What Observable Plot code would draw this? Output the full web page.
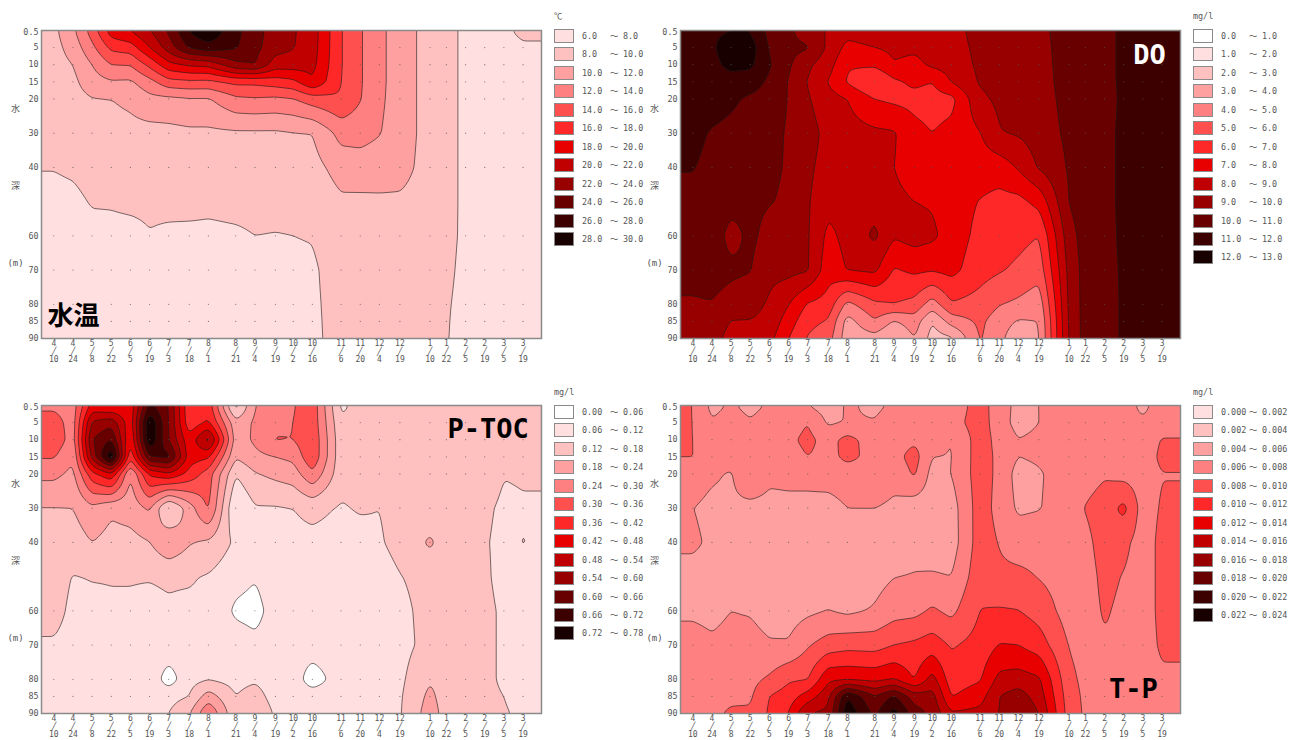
<!DOCTYPE html>
<html><head><meta charset="utf-8">
<script src="https://cdn.jsdelivr.net/npm/d3@7"></script>
<script src="https://cdn.jsdelivr.net/npm/@observablehq/plot@0.6"></script>
<style>
html,body{margin:0;padding:0;background:#fff}
#page{position:relative;width:1292px;height:740px;overflow:hidden;font-family:"DejaVu Sans Mono","Noto Sans CJK JP",monospace;color:#555}
#page svg{position:absolute;overflow:visible}
.sw{position:absolute;width:18px;height:12px;border:1.5px solid #8a8a8a}
.lg{position:absolute;font-size:8.4px;line-height:14px;white-space:pre}
</style></head><body><div id="page"></div>
<script>
const dateLabels = ["4/10","4/24","5/8","5/22","6/5","6/19","7/3","7/18","8/1","8/21","9/4","9/19","10/2","10/16","11/6","11/20","12/4","12/19","1/10","1/22","2/5","2/19","3/5","3/19"];
const dayOffsets = [0,14,28,42,56,70,84,99,113,133,147,162,175,189,210,224,238,253,275,287,301,315,329,343];
const depths = [0.5,5,10,15,20,30,40,50,60,70,80,85,90];
const depthTicks = [0.5,5,10,15,20,30,40,60,70,80,85,90];
const reds = ["#ffffff","#ffdfdf","#ffc0c0","#ffa0a0","#ff8080","#ff5050","#ff2828","#e80000","#c00000","#980000","#680000","#3c0000","#180000"];

// each line: one survey date, values by depth
const waterTemp = [
[9.5,9.3,9.2,9.1,9,8.5,8.05,7.6,7.3,7,6.8,6.7,6.6],
[11.5,10.8,10,9.5,9.2,8.7,8.2,7.7,7.2,7,6.8,6.7,6.6],
[14.8,13.5,12,11.2,9.9,9,8.5,8.1,7.6,7.2,7,6.9,6.8],
[18.8,16.5,14,11.8,10,9.3,8.6,8.1,7.7,7.3,7.1,7,6.9],
[19.9,17,14.1,11.7,10.4,9.4,8.7,8.2,7.7,7.3,7.1,7,6.9],
[21.8,20,16.5,13.3,11.4,9.3,8.6,8.2,7.95,7.4,7.1,7,6.9],
[24.2,23,19.4,15.3,11.5,9.4,8.8,8.3,7.8,7.3,7.1,7,6.9],
[28,26.2,20.3,15.6,11.8,9.6,8.9,8.4,7.7,7.3,7.1,7,6.9],
[29.6,27.2,20.6,15.5,11.8,9.6,8.9,8.3,7.7,7.2,7,6.9,6.8],
[26.5,26.2,23.5,16.5,13.6,9.7,9,8.4,7.8,7.3,7,6.9,6.8],
[24.8,24.6,24.1,16.5,13.8,9.7,9,8.4,8,7.4,7.1,7,6.9],
[23,22.8,21,17,13.6,9.7,9,8.4,7.95,7.5,7.2,7.1,7],
[22.2,22.1,21,17.5,13.9,9.9,9.1,8.4,8,7.6,7.3,7.2,7.1],
[21,20.9,20.6,19.8,15,10,9.3,8.6,8.1,7.7,7.65,7.62,7.6],
[16.1,16.1,16.1,16,15.8,12.7,10.8,9.7,9.3,9,8.8,8.75,8.7],
[14.2,14.2,14.2,14.2,14.1,12.7,11.1,9.6,9.2,9,8.9,8.8,8.8],
[12.5,12.5,12.5,12.5,12.4,12.1,10.9,9.7,9.2,9,8.9,8.9,8.8],
[11,11,11,11,11,11,10.7,9.7,9.3,9.1,9,9,9],
[9.2,9.2,9.2,9.2,9.2,9.2,9.2,9.2,9.2,9.2,9.2,9.2,9.2],
[8.6,8.6,8.6,8.6,8.6,8.6,8.6,8.6,8.55,8.4,8.2,8.15,8.1],
[7.6,7.6,7.6,7.6,7.6,7.6,7.6,7.6,7.6,7.5,7.4,7.3,7.3],
[7.3,7.3,7.3,7.3,7.3,7.3,7.3,7.3,7.3,7.3,7.2,7.2,7.2],
[7.6,7.2,7.2,7.2,7.2,7.2,7.2,7.2,7.2,7.2,7.2,7.2,7.2],
[8.4,7.7,7.2,7.2,7.2,7.2,7.2,7.2,7.2,7.2,7.2,7.2,7.2]];

const dissolvedOxygen = [
[11.8,11.8,11.8,11.7,11.6,11.3,11.05,10.7,10.5,10.3,9.9,9.7,9.5],
[11.9,11.9,11.8,11.7,11.5,10.9,10.7,10.6,10.5,10.4,9.95,9.6,9.3],
[12,12.4,12.2,11.7,11.2,10.7,10.5,10.3,9.7,10.2,9.6,8.95,8.7],
[12,12.5,12.2,11.5,10.8,10.5,10.4,10.2,10.2,10.05,9.4,8.95,8.5],
[10.7,10.9,11.1,10.8,10.6,10.3,10.2,10.05,9.7,9.3,8.85,8.7,8.3],
[10.2,10.3,10.15,9.95,9.95,9.9,9.9,9.85,9.7,9.3,8.05,7.5,7],
[9.5,10.1,9.2,8.95,9.1,9.4,9.2,9.1,9.1,9.1,6.9,6.3,5.9],
[8.9,8.8,8.4,7.95,8.4,8.7,8.6,8.3,7.75,7.4,6.6,5.9,5.4],
[8.3,7.7,7.1,6.9,8,8.4,8.5,8.4,8.3,8.05,4.7,3.6,3.4],
[8.5,8,7.2,5.8,7,8.2,8.5,8.7,9.2,8.2,5.8,4.9,3.6],
[8.3,8.2,7.95,6.8,6.8,8.1,8,8.2,8.1,6.9,6,3.9,2.9],
[8.4,8.2,7.7,7.2,6.7,7.3,7.6,8,8.4,7.2,5.7,4.5,4],
[8.5,8.4,8.2,7,6.6,7,7.2,7.9,8.2,7.1,4.5,3,2.6],
[8.6,8.5,8.4,8.05,6.7,7.3,7.4,7.5,7.55,7.3,5.9,4.4,2.8],
[9.4,9.3,9.2,9.1,8.8,7.95,7.5,6.95,6.7,6.4,5.6,5.2,5.1],
[9.5,9.5,9.4,9.3,9.2,8.95,7.45,6.7,6.5,6.1,5.05,4.5,4.3],
[9.6,9.55,9.5,9.4,9.3,9.1,8.1,6.7,6.3,5.8,4.8,3.9,3.2],
[9.8,9.75,9.7,9.65,9.6,9.5,9.1,7.3,6,5.4,4.4,4,3.9],
[10.35,10.35,10.35,10.35,10.3,10.2,10.1,10.05,9.6,9.3,9.2,9.15,9.1],
[10.6,10.6,10.6,10.6,10.6,10.6,10.6,10.5,10.45,10.4,10.4,10.4,10.4],
[10.85,10.85,10.85,10.85,10.8,10.8,10.8,10.8,10.75,10.75,10.7,10.7,10.7],
[11.1,11.1,11.1,11.1,11.1,11.15,11.15,11.15,11.15,11.1,11.1,11.1,11.1],
[11.4,11.4,11.4,11.4,11.4,11.4,11.4,11.4,11.4,11.4,11.4,11.4,11.4],
[11.6,11.6,11.6,11.6,11.6,11.6,11.6,11.6,11.6,11.6,11.6,11.6,11.6]];

const pToc = [
[.29,.33,.345,.305,.255,.178,.15,.14,.135,.115,.1,.1,.1],
[.27,.27,.27,.245,.225,.18,.15,.118,.11,.105,.1,.1,.1],
[.45,.55,.6,.56,.4,.225,.18,.122,.11,.1,.1,.1,.1],
[.43,.58,.66,.775,.47,.19,.16,.122,.115,.105,.1,.1,.1],
[.44,.44,.42,.37,.235,.205,.16,.122,.115,.1,.1,.1,.1],
[.68,.775,.775,.66,.43,.25,.178,.122,.11,.1,.1,.1,.1],
[.6,.6,.6,.68,.47,.1,.235,.125,.115,.1,.03,.1,.12],
[.37,.38,.44,.45,.4,.21,.185,.125,.11,.1,.1,.12,.175],
[.4,.43,.57,.43,.33,.31,.17,.115,.11,.1,.115,.21,.3],
[.1,.2,.21,.185,.122,.055,.11,.08,.05,.09,.1,.12,.13],
[.24,.25,.25,.225,.175,.115,.1,.064,.04,.075,.11,.15,.185],
[.27,.28,.305,.24,.195,.115,.1,.09,.085,.085,.085,.09,.11],
[.295,.3,.3,.255,.21,.12,.105,.095,.085,.08,.09,.09,.09],
[.34,.34,.35,.35,.29,.135,.105,.09,.08,.09,.03,.09,.09],
[.11,.13,.14,.14,.14,.115,.1,.09,.09,.09,.09,.09,.09],
[.14,.14,.14,.14,.14,.125,.1,.09,.09,.09,.09,.09,.09],
[.14,.14,.14,.14,.14,.12,.115,.1,.09,.09,.09,.09,.09],
[.14,.14,.14,.14,.14,.14,.135,.118,.105,.1,.108,.113,.115],
[.14,.14,.14,.14,.14,.14,.19,.14,.14,.14,.175,.195,.21],
[.15,.15,.15,.15,.15,.15,.15,.15,.15,.15,.15,.15,.155],
[.15,.15,.15,.15,.15,.15,.15,.15,.15,.15,.15,.15,.15],
[.15,.15,.15,.15,.15,.13,.125,.13,.135,.135,.135,.135,.135],
[.14,.14,.14,.14,.122,.11,.105,.1,.11,.11,.11,.12,.125],
[.14,.14,.14,.14,.125,.115,.122,.1,.122,.1,.1,.1,.11]];
const pTocRightEdge = [.14,.14,.14,.14,.13,.11,.11,.1,.11,.1,.1,.1,.11];

// total phosphorus, in units of 0.001 mg/l
const totalP = [
[8.05,8.05,8.05,8.05,7,6.03,6.3,5.4,5.7,6.7,7.2,7.3,7.5],
[5.5,6.2,6.8,7,6.3,5.5,5.7,5.3,5.5,6.3,7,7.2,7.6],
[6.3,6.8,7,6.9,5.8,5.6,5.3,5.2,6,6.6,7.2,7.6,8.3],
[5.5,6.2,8.1,7.8,8.1,5.3,5.2,5.1,5.85,6.7,7.4,7.7,8.3],
[6.3,6.9,7,7,6.5,5.3,5.2,5.1,5.2,6.2,8.3,10.05,10.3],
[6.6,7,7.6,7.2,6.6,5.4,5.1,5,5.1,6.2,9.7,11,12.05],
[6.1,8,8.5,8,6.5,5.5,5,4.9,5.6,7.8,9.9,12.9,16.1],
[5.2,5.7,7.3,7.4,6.8,5.3,5,4.9,6.05,8.9,13.6,15.5,16.5],
[6.2,6.1,8.7,8.5,7,6,5,4.8,5.6,9.3,13.7,22,23.5],
[5.7,6.1,7,7.4,7.2,6,5,5.3,6.2,9.2,13.4,18.1,19.5],
[6.3,6.9,7.2,7.3,6.5,5.7,5,5.95,7.2,10,14,20.3,23],
[6.5,7,7.6,8.8,8.3,4.8,5.4,6.1,7.4,10.4,11.9,17,19],
[6.6,7.2,7.3,6,5.3,5,5,6.2,8.3,11,14.8,16.8,17.5],
[6.7,7.2,5.9,5.9,6,5.1,5.02,6,7.5,9.8,10.9,11.9,14.3],
[9,9,9,9,9,9,9,9.3,10.05,10.7,11.8,13.2,14.6],
[6.8,6.9,7.3,7.5,7.5,7.3,7.9,8.4,10.2,12.1,14.6,16,16.05],
[5.5,5.3,6.05,6,5.2,5.7,7,8.5,10.05,12,14.9,17,17.8],
[6,6,6.4,6.3,5.8,5.9,7.2,7.9,9.2,11,14.3,15.1,16.05],
[7,7,7,7,7,7,7,7,7.1,7.9,8.5,8.9,9.1],
[7.2,7,7,7,7.2,8.1,7.5,7.2,7.2,7.3,7.5,7.6,7.7],
[7.5,8.1,7.8,8.1,7.8,8.9,8.8,8.5,8.2,7.8,7.3,7,6.8],
[7,6.8,7,7,7.3,10.6,8.5,7.9,7.6,7.5,7.2,7.1,7],
[5.5,6.4,7,7,7.1,7.1,7.1,7.1,7.1,7.1,7,7,7],
[7.1,7.2,8.1,8.4,7.95,8.2,8.5,8.5,8.5,8.3,7.7,7.5,7.4]];

const tempBreaks = [6,8,10,12,14,16,18,20,22,24,26,28,30];
const doBreaks = [0,1,2,3,4,5,6,7,8,9,10,11,12,13];
const tocBreaks = [0,.06,.12,.18,.24,.3,.36,.42,.48,.54,.6,.66,.72,.78];
const tpBreaks = [0,2,4,6,8,10,12,14,16,18,20,22,24];
const sideLabels = [{t:"水",d:23},{t:"深",d:45.5},{t:"(m)",d:68}];
const xDomain = [-9,356.5];

const panels = [
 {left:0,top:0,values:waterTemp,breaks:tempBreaks,colors:reds.slice(1),unit:"℃",fmt:v=>v.toFixed(1),title:"水温",tx:14.4,ty:83.5,tc:"#000",tf:'"Noto Sans CJK JP"',ts:26},
 {left:639,top:0,values:dissolvedOxygen,breaks:doBreaks,colors:reds,unit:"mg/l",fmt:v=>v.toFixed(1),title:"DO",tx:333.8,ty:7.4,tc:"#fff",tf:'"DejaVu Sans Mono"',ts:27},
 {left:0,top:375,values:pToc,rightEdge:pTocRightEdge,breaks:tocBreaks,colors:reds,unit:"mg/l",fmt:v=>v.toFixed(2),title:"P-TOC",tx:317.5,ty:7,tc:"#000",tf:'"DejaVu Sans Mono"',ts:27},
 {left:639,top:375,values:totalP,breaks:tpBreaks,colors:reds.slice(1),unit:"mg/l",fmt:v=>(v/1000).toFixed(3),title:"T-P",tx:322,ty:83,tc:"#000",tf:'"DejaVu Sans Mono"',ts:27}
];

// bilinear sampling over the rectangular survey grid, for Plot's contour raster
function gridInterpolate(I,w,h,X,Y,V){
  const xs=[...new Set(Array.from(I,i=>X[i]))].sort(d3.ascending);
  const ys=[...new Set(Array.from(I,i=>Y[i]))].sort(d3.ascending);
  const nx=xs.length, ny=ys.length, G=new Float64Array(nx*ny);
  const xi=new Map(xs.map((v,i)=>[v,i])), yi=new Map(ys.map((v,i)=>[v,i]));
  for(const i of I) G[yi.get(Y[i])*nx+xi.get(X[i])]=V[i];
  const seek=(a,v)=>{let k=Math.min(Math.max(d3.bisectRight(a,v)-1,0),a.length-2);return [k,Math.min(Math.max((v-a[k])/(a[k+1]-a[k]),0),1)];};
  const out=new Float64Array(w*h);
  for(let py=0;py<h;py++){const [b,t]=seek(ys,py+.5);
    for(let px=0;px<w;px++){const [a,s]=seek(xs,px+.5);
      const v0=G[b*nx+a]*(1-s)+G[b*nx+a+1]*s, v1=G[(b+1)*nx+a]*(1-s)+G[(b+1)*nx+a+1]*s;
      out[py*w+px]=v0*(1-t)+v1*t;}}
  return out;
}

const page = document.getElementById("page");
const tickText = dateLabels.map(s => s.split("/").join("\n╱\n"));

for (const p of panels) {
  const table = [];
  const xs = [xDomain[0], ...dayOffsets, xDomain[1]];
  const ys = [0, ...depths];
  xs.forEach((x,i) => ys.forEach((y,j) => {
    const ci = Math.min(Math.max(i-1,0),dayOffsets.length-1);
    const ri = Math.max(j-1,0);
    const v = (i===xs.length-1 && p.rightEdge) ? p.rightEdge[ri] : p.values[ci][ri];
    table.push({x,y,v});
  }));
  const grid = dayOffsets.flatMap(x => depthTicks.slice(1).map(y => ({x,y})));
  const lowers = p.breaks.slice(0,-1);
  const svg = Plot.plot({
    width:542,height:365,marginLeft:41,marginRight:1,marginTop:30,marginBottom:27,
    style:{fontFamily:'"DejaVu Sans Mono","Noto Sans CJK JP",monospace',fontSize:"8.4px",background:"transparent",color:"#555"},
    x:{domain:xDomain},
    y:{domain:[0,90],reverse:true},
    color:{type:"threshold",domain:lowers.slice(1),range:p.colors},
    marks:[
      Plot.contour(table,{x:"x",y:"y",fill:"value",value:"v",interpolate:gridInterpolate,thresholds:lowers,pixelSize:1,blur:1.5,stroke:"#1a1a1a",strokeWidth:0.7,strokeOpacity:0.85}),
      Plot.dot(grid,{x:"x",y:"y",r:0.6,fill:"#555",fillOpacity:0.75}),
      Plot.frame({stroke:"#8a8a8a",strokeWidth:1.5}),
      Plot.axisX({ticks:dayOffsets,tickFormat:d=>tickText[dayOffsets.indexOf(d)],tickSize:0,tickPadding:2,lineHeight:1,fontSize:8,label:null,fill:"#555"}),
      Plot.axisY({ticks:depthTicks,tickFormat:d=>String(d),tickSize:0,tickPadding:3,label:null,fill:"#555"}),
      Plot.text(sideLabels,{text:"t",y:"d",frameAnchor:"left",dx:-26,textAnchor:"middle",fill:"#555",fontSize:9}),
      Plot.text([p.title],{x:()=>p.tx,y:()=>p.ty,text:d=>d,fill:p.tc,fontSize:p.ts,fontWeight:"bold",fontFamily:p.tf})
    ]
  });
  svg.style.left = p.left+"px"; svg.style.top = p.top+"px";
  page.appendChild(svg);

  const lx = p.left+554, ly = p.top+(p.top?30:29);
  const u = document.createElement("div"); u.className="lg";
  u.textContent = p.unit; u.style.left = lx+"px"; u.style.top = (ly-20)+"px";
  page.appendChild(u);
  p.colors.forEach((c,i) => {
    const y = ly + i*18.45;
    const s = document.createElement("div"); s.className="sw"; s.style.left=lx+"px"; s.style.top=y+"px"; s.style.background=c;
    page.appendChild(s);
    [[28,p.fmt(p.breaks[i])],[56,"～"],[69,p.fmt(p.breaks[i+1])]].forEach(([dx,t]) => {
      const e = document.createElement("div"); e.className="lg"; e.textContent=t;
      e.style.left=(lx+dx)+"px"; e.style.top=y+"px"; page.appendChild(e);
    });
  });
}
</script></body></html>
